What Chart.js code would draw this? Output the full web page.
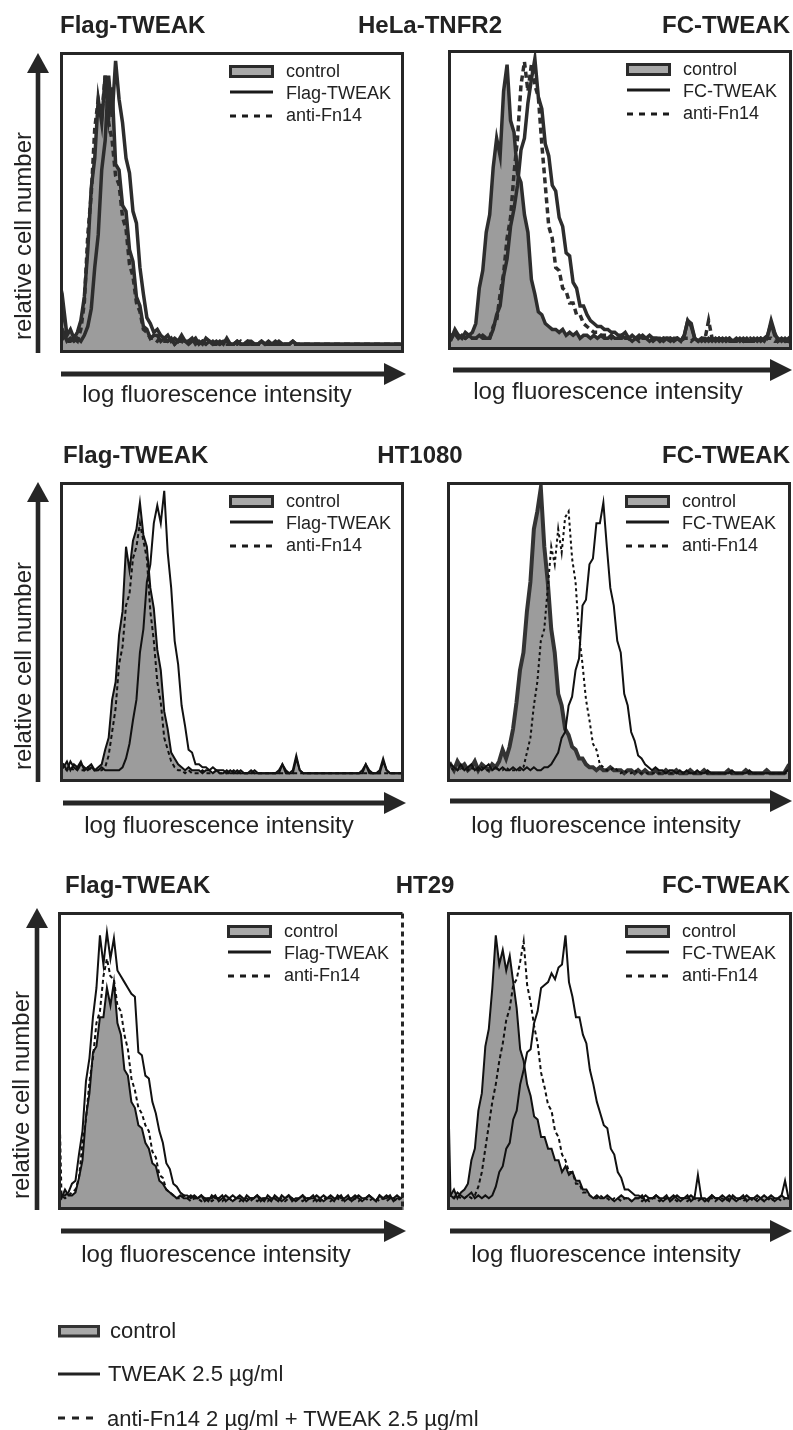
<!DOCTYPE html>
<html>
<head>
<meta charset="utf-8">
<title>TWEAK binding - flow cytometry</title>
<script src="https://cdn.jsdelivr.net/npm/chart.js@4.4.1/dist/chart.umd.min.js"></script>
<style>
  html, body { margin: 0; padding: 0; background: #fff; }
  #page { position: relative; width: 793px; height: 1430px; overflow: hidden; }
  #page canvas { position: absolute; }
  #overlay { position: absolute; left: 0; top: 0; font-family: "Liberation Sans", Arial, sans-serif; fill: #222; }
  .title { font-size: 24px; font-weight: bold; }
  .axis { font-size: 24px; }
  .key { font-size: 18px; }
  .foot { font-size: 22px; }
</style>
</head>
<body>
<div id="page">
  <canvas id="p1"></canvas>
  <canvas id="p2"></canvas>
  <canvas id="p3"></canvas>
  <canvas id="p4"></canvas>
  <canvas id="p5"></canvas>
  <canvas id="p6"></canvas>
  <svg id="overlay" width="793" height="1430">
    <!-- row titles -->
    <text class="title" x="60" y="33">Flag-TWEAK</text>
    <text class="title" x="430" y="33" text-anchor="middle">HeLa-TNFR2</text>
    <text class="title" x="790" y="33" text-anchor="end">FC-TWEAK</text>
    <text class="title" x="63" y="463">Flag-TWEAK</text>
    <text class="title" x="420" y="463" text-anchor="middle">HT1080</text>
    <text class="title" x="790" y="463" text-anchor="end">FC-TWEAK</text>
    <text class="title" x="65" y="893">Flag-TWEAK</text>
    <text class="title" x="425" y="893" text-anchor="middle">HT29</text>
    <text class="title" x="790" y="893" text-anchor="end">FC-TWEAK</text>

    <!-- axis captions -->
    <text class="axis" transform="translate(31,236) rotate(-90)" text-anchor="middle">relative cell number</text>
    <text class="axis" transform="translate(31,666) rotate(-90)" text-anchor="middle">relative cell number</text>
    <text class="axis" transform="translate(29,1095) rotate(-90)" text-anchor="middle">relative cell number</text>
    <text class="axis" x="217" y="402" text-anchor="middle">log fluorescence intensity</text>
    <text class="axis" x="608" y="399" text-anchor="middle">log fluorescence intensity</text>
    <text class="axis" x="219" y="833" text-anchor="middle">log fluorescence intensity</text>
    <text class="axis" x="606" y="833" text-anchor="middle">log fluorescence intensity</text>
    <text class="axis" x="216" y="1262" text-anchor="middle">log fluorescence intensity</text>
    <text class="axis" x="606" y="1262" text-anchor="middle">log fluorescence intensity</text>

    <!-- shared key -->
    <rect x="59.5" y="1326.5" width="39" height="9.5" fill="#a9a9a9" stroke="#333" stroke-width="3"/>
    <text class="foot" x="110" y="1338">control</text>
    <line x1="58" y1="1374" x2="100" y2="1374" stroke="#222" stroke-width="3"/>
    <text class="foot" x="108" y="1381">TWEAK 2.5 µg/ml</text>
    <line x1="58" y1="1418" x2="100" y2="1418" stroke="#222" stroke-width="3" stroke-dasharray="7 7"/>
    <text class="foot" x="107" y="1426">anti-Fn14 2 µg/ml + TWEAK 2.5 µg/ml</text>
  </svg>
</div>
<script>
// histogram bins (log channel), 100 per sample, values in % of panel height
const bins = Array.from({ length: 100 }, (_, i) => i);

// HeLa-TNFR2, Flag-TWEAK
const helaFlagCtrl = [
  3,14,4,6,3,5,9,17,33,54,64,84,76,92,78,88,62,60,48,46,
  33,29,17,14,7,6,3,4,4,2,3,2,3,1,2,3,2,1,2,3,
  1,2,1,2,1,1,2,1,3,1,1,2,1,1,2,1,1,1,2,1,
  1,1,2,1,1,1,1,2,1,1,1,1,1,1,1,1,1,1,1,1,
  1,1,1,1,1,1,1,1,1,1,1,1,1,1,1,1,1,1,1,1
];
const helaFlagTweak = [
  2,5,2,3,2,3,2,4,7,13,27,38,60,70,92,78,97,84,76,64,
  59,46,42,27,18,10,8,5,6,4,3,4,2,3,2,4,2,2,3,1,
  2,1,3,2,1,2,1,2,2,1,1,2,1,1,2,2,1,1,2,1,
  2,1,1,2,1,1,1,2,1,1,1,1,1,1,1,1,1,1,1,1,
  1,1,1,1,1,1,1,1,1,1,1,1,1,1,1,1,1,1,1,1
];
const helaFlagAnti = [
  2,3,2,2,3,2,6,15,38,52,74,84,78,92,76,70,58,55,44,40,
  28,24,15,12,6,5,3,3,2,3,2,2,3,1,2,2,1,2,1,2,
  1,2,1,1,2,1,1,2,1,1,1,1,2,1,1,1,1,1,1,1,
  1,1,1,1,1,1,1,1,1,1,1,1,1,1,1,1,1,1,1,1,
  1,1,1,1,1,1,1,1,1,1,1,1,1,1,1,1,1,1,1,1
];

// HeLa-TNFR2, FC-TWEAK
const helaFcCtrl = [
  4,2,5,3,2,4,3,4,7,19,25,38,44,60,70,64,86,95,76,72,
  58,55,44,38,22,17,11,10,7,6,5,5,4,5,3,4,3,4,2,3,
  3,2,3,2,3,2,2,3,2,2,3,2,2,1,2,2,3,2,1,2,
  2,1,2,2,1,2,2,1,3,8,7,2,1,2,1,2,1,2,1,2,
  1,2,1,1,2,1,2,1,1,2,1,2,3,8,4,1,2,1,2,3
];
const helaFcTweak = [
  3,2,4,2,3,2,3,2,2,3,2,2,2,5,10,13,23,29,40,46,
  54,66,70,82,90,97,84,80,68,64,54,52,43,40,31,30,21,19,13,13,
  10,8,7,6,6,5,5,4,4,3,3,4,2,3,2,3,2,2,3,2,
  2,2,1,2,2,1,2,1,3,8,6,2,1,2,2,1,2,1,2,1,
  2,1,1,2,1,2,1,1,2,1,2,1,3,7,3,2,1,2,1,2
];
const helaFcAnti = [
  2,3,2,3,2,2,3,2,2,2,3,2,2,6,8,17,24,36,43,58,
  70,88,96,86,95,88,84,68,54,40,36,26,25,19,18,14,14,10,10,7,
  6,5,4,4,3,3,3,2,3,2,2,3,2,2,2,1,2,2,2,1,
  2,1,2,1,2,1,2,1,2,2,1,2,2,1,2,8,2,1,2,1,
  1,2,1,1,2,1,1,2,1,1,2,1,2,2,1,1,2,1,1,2
];

// HT1080, Flag-TWEAK
const ht1080FlagCtrl = [
  4,3,5,2,4,3,5,2,3,4,2,3,4,9,13,26,32,48,56,78,
  70,80,84,93,82,78,64,57,43,36,22,16,8,6,4,3,2,3,2,2,
  2,1,2,2,1,2,1,1,2,1,1,2,1,1,1,2,1,1,1,1,
  1,1,1,1,4,2,1,1,6,2,1,1,1,1,1,1,1,1,1,1,
  1,1,1,1,1,1,1,1,4,2,1,1,1,5,2,1,1,1,1,1
];
const ht1080FlagTweak = [
  3,4,2,5,3,2,4,3,2,3,2,2,3,2,2,2,2,2,3,6,
  11,19,26,42,50,66,72,86,92,86,97,76,64,46,38,24,17,9,8,4,
  4,3,3,2,3,2,2,2,1,2,1,1,2,1,1,1,2,1,1,1,
  1,1,1,2,4,1,1,2,7,2,1,1,1,1,1,1,1,1,1,1,
  1,1,1,1,1,1,1,2,4,1,1,1,2,6,2,1,1,1,1,1
];
const ht1080FlagAnti = [
  2,3,2,3,2,3,2,2,3,2,2,2,2,3,7,15,23,38,44,58,
  62,74,78,86,80,74,56,46,32,25,13,9,5,3,2,2,1,2,1,1,
  1,2,1,1,1,2,1,1,1,1,2,1,1,1,1,1,1,1,1,1,
  1,1,1,1,1,1,1,1,1,1,1,1,1,1,1,1,1,1,1,1,
  1,1,1,1,1,1,1,1,1,1,1,1,1,1,1,1,1,1,1,1
];

// HT1080, FC-TWEAK
const ht1080FcCtrl = [
  3,4,2,5,3,4,2,3,5,2,4,3,2,4,3,5,9,6,10,16,
  25,36,42,56,66,84,90,98,78,66,50,42,28,24,16,14,10,9,6,6,
  4,3,3,2,3,2,2,3,2,2,2,1,2,2,1,2,1,2,1,1,
  2,1,1,2,1,1,2,1,1,1,2,1,1,1,2,1,1,1,1,1,
  1,2,1,1,1,1,2,1,1,1,1,1,2,1,1,1,1,1,3,1
];
const ht1080FcTweak = [
  2,4,3,2,4,2,3,4,2,3,2,3,4,2,3,2,3,2,2,3,
  2,3,2,3,2,3,2,2,3,3,4,6,8,13,15,24,27,36,40,58,
  60,72,74,86,86,93,78,64,58,46,42,28,24,15,12,7,6,4,3,2,
  3,2,2,1,2,2,1,2,1,2,1,1,2,1,1,2,1,1,1,1,
  1,1,2,1,1,1,1,2,1,1,1,1,1,1,1,1,1,1,2,1
];
const ht1080FcAnti = [
  2,3,2,2,3,2,2,3,2,2,3,2,2,2,3,2,2,3,2,2,
  2,2,3,8,13,24,32,46,50,64,78,72,84,76,88,90,74,66,48,38,
  26,19,11,9,4,3,2,2,3,2,1,2,1,1,2,1,1,1,1,1,
  1,1,1,1,1,1,1,1,1,1,1,1,1,1,1,1,1,1,1,1,
  1,1,1,1,1,1,1,1,1,1,1,1,1,1,1,1,1,1,1,1
];

// HT29, Flag-TWEAK
const ht29FlagCtrl = [
  4,2,5,3,3,4,9,15,30,38,52,54,64,64,74,68,76,62,58,46,
  44,35,33,27,26,21,19,14,13,8,7,5,4,3,2,3,2,2,3,2,
  2,3,1,2,2,3,1,2,3,2,1,2,3,2,1,2,2,3,1,2,
  2,1,3,2,1,2,3,1,2,2,3,1,2,2,3,2,1,2,3,2,
  2,3,1,2,2,3,2,1,2,3,2,1,3,2,2,3,1,2,2,3
];
const ht29FlagTweak = [
  5,3,3,4,7,8,17,25,42,50,64,74,92,82,93,84,91,80,78,76,
  74,72,71,52,51,44,43,35,31,25,21,14,12,7,6,4,3,3,2,3,
  2,3,2,1,3,2,2,3,1,2,3,2,2,1,3,2,2,3,2,1,
  3,2,2,1,3,2,3,2,1,2,3,2,2,3,1,2,3,2,2,1,
  3,2,2,3,1,2,3,2,2,3,2,1,3,2,3,2,2,3,2,3
];
const ht29FlagAnti = [
  55,3,2,3,4,5,9,21,29,42,50,62,66,78,84,78,77,68,66,58,
  53,43,39,33,31,27,25,18,16,10,9,5,4,3,2,2,3,2,1,2,
  2,1,2,2,1,2,2,1,2,2,1,2,1,2,2,1,2,1,2,2,
  1,2,2,1,2,1,2,2,1,2,1,2,2,1,2,1,2,2,1,2,
  2,1,2,2,1,2,1,2,2,1,2,2,1,2,1,2,2,1,2,2
];

// HT29, FC-TWEAK
const ht29FcCtrl = [
  4,3,5,2,4,5,7,15,19,32,38,54,60,74,92,82,87,80,85,76,
  67,53,49,41,37,30,29,23,23,19,19,15,15,11,13,10,11,8,8,5,
  5,3,2,3,2,2,3,2,1,2,3,2,2,1,2,2,3,1,2,2,
  3,2,1,2,2,3,2,1,2,2,3,2,2,2,1,2,3,2,2,1,
  2,3,2,1,2,2,3,2,2,1,2,3,2,2,1,2,3,2,2,3
];
const ht29FcTweak = [
  58,3,2,4,3,2,3,4,2,3,2,3,2,3,6,11,13,19,21,29,
  32,41,46,52,53,62,66,74,75,76,79,77,81,82,92,76,71,64,64,58,
  55,46,41,35,31,27,26,19,17,11,9,5,5,4,3,3,2,3,2,2,
  3,2,2,3,1,2,3,2,2,3,1,2,10,2,2,1,3,2,2,3,
  2,1,3,2,2,3,1,2,2,3,2,1,2,3,2,2,3,8,2,3
];
const ht29FcAnti = [
  2,3,2,3,2,2,3,2,3,6,11,19,27,35,41,49,55,63,67,75,
  77,83,90,75,69,61,55,45,40,34,32,25,23,17,15,11,11,7,7,4,
  4,3,2,2,3,2,2,1,2,2,1,2,2,1,2,2,1,2,1,2,
  2,1,2,2,1,2,1,2,2,1,2,2,1,2,1,2,2,1,2,2,
  1,2,2,1,2,1,2,2,1,2,2,1,2,1,2,2,1,2,2,1
];

// line styles: top row scans are heavier and greyer
const heavy = { ink: '#2d2d2d', width: 3.5, dash: [6, 4], edge: '#2d2d2d', edgeWidth: 3.5 };
const thin = { ink: '#111', width: 2, dash: [4, 3], edge: '#111', edgeWidth: 2 };
const thinWideEdge = { ink: '#111', width: 2, dash: [3, 3], edge: '#333', edgeWidth: 4 };

const panels = [
  { id: 'p1', x: 60, y: 52, w: 344, h: 301, col: 0, label: 'Flag-TWEAK', ctrl: helaFlagCtrl, tweak: helaFlagTweak, anti: helaFlagAnti, style: heavy },
  { id: 'p2', x: 448, y: 50, w: 344, h: 300, col: 1, label: 'FC-TWEAK', ctrl: helaFcCtrl, tweak: helaFcTweak, anti: helaFcAnti, style: heavy },
  { id: 'p3', x: 60, y: 482, w: 344, h: 300, col: 0, label: 'Flag-TWEAK', ctrl: ht1080FlagCtrl, tweak: ht1080FlagTweak, anti: ht1080FlagAnti, style: thin },
  { id: 'p4', x: 447, y: 482, w: 344, h: 300, col: 1, label: 'FC-TWEAK', ctrl: ht1080FcCtrl, tweak: ht1080FcTweak, anti: ht1080FcAnti, style: thinWideEdge },
  { id: 'p5', x: 58, y: 912, w: 346, h: 298, col: 0, label: 'Flag-TWEAK', ctrl: ht29FlagCtrl, tweak: ht29FlagTweak, anti: ht29FlagAnti, style: thin, dashedRight: true },
  { id: 'p6', x: 447, y: 912, w: 345, h: 298, col: 1, label: 'FC-TWEAK', ctrl: ht29FcCtrl, tweak: ht29FcTweak, anti: ht29FcAnti, style: thin }
];

// heavy box around the plot area
const frame = {
  id: 'frame',
  afterDraw(chart, args, opts) {
    const { ctx, width, height } = chart;
    ctx.save();
    ctx.lineWidth = 3;
    ctx.strokeStyle = '#262626';
    ctx.beginPath();
    ctx.moveTo(width - 1.5, 1.5);
    ctx.lineTo(1.5, 1.5);
    ctx.lineTo(1.5, height - 1.5);
    ctx.lineTo(width - 1.5, height - 1.5);
    if (!opts.dashedRight) ctx.closePath();
    ctx.stroke();
    if (opts.dashedRight) {
      ctx.setLineDash([5, 4]);
      ctx.beginPath();
      ctx.moveTo(width - 1.5, 1.5);
      ctx.lineTo(width - 1.5, height - 1.5);
      ctx.stroke();
    }
    ctx.restore();
  }
};

panels.forEach(p => {
  const cv = document.getElementById(p.id);
  cv.width = p.w;
  cv.height = p.h;
  cv.style.left = p.x + 'px';
  cv.style.top = p.y + 'px';
  const s = p.style;
  new Chart(cv, {
    type: 'line',
    data: {
      labels: bins,
      datasets: [
        { label: 'control', data: p.ctrl, fill: 'start', backgroundColor: '#9c9c9c', borderColor: s.edge, borderWidth: s.edgeWidth, order: 3 },
        { label: 'anti-Fn14', data: p.anti, fill: false, borderColor: s.ink, borderWidth: s.width, borderDash: s.dash, order: 2 },
        { label: p.label, data: p.tweak, fill: false, borderColor: s.ink, borderWidth: s.width, order: 1 }
      ]
    },
    options: {
      responsive: false,
      animation: false,
      layout: { padding: 0 },
      elements: { point: { radius: 0 }, line: { tension: 0, borderJoinStyle: 'miter' } },
      scales: {
        x: { display: false, offset: false },
        y: { display: false, min: -2, max: 100 }
      },
      plugins: {
        legend: { display: false },
        tooltip: { enabled: false },
        frame: { dashedRight: !!p.dashedRight }
      }
    },
    plugins: [frame]
  });
});

// overlay: arrows and per-panel keys
const NS = 'http://www.w3.org/2000/svg';
const svg = document.getElementById('overlay');
function add(tag, attrs, text) {
  const el = document.createElementNS(NS, tag);
  for (const k in attrs) el.setAttribute(k, attrs[k]);
  if (text) el.textContent = text;
  svg.appendChild(el);
  return el;
}
function yArrow(x, tip, base) {
  add('rect', { x: x - 2.3, y: tip + 16, width: 4.6, height: base - tip - 16, fill: '#262626' });
  add('polygon', { points: `${x - 11},${tip + 20} ${x + 11},${tip + 20} ${x},${tip}`, fill: '#262626' });
}
function xArrow(y, start, tip) {
  add('rect', { x: start, y: y - 2.5, width: tip - start - 16, height: 5, fill: '#262626' });
  add('polygon', { points: `${tip - 22},${y - 11} ${tip - 22},${y + 11} ${tip},${y}`, fill: '#262626' });
}
yArrow(38, 53, 353);
yArrow(38, 482, 782);
yArrow(37, 908, 1210);
xArrow(374, 61, 406);
xArrow(370, 453, 792);
xArrow(803, 63, 406);
xArrow(801, 450, 792);
xArrow(1231, 61, 406);
xArrow(1231, 450, 792);

const keyCols = [{ swatch: 169, text: 226 }, { swatch: 178, text: 235 }];
panels.forEach(p => {
  const k = keyCols[p.col];
  const x0 = p.x + k.swatch, y0 = p.y;
  add('rect', { x: x0 + 1.5, y: y0 + 14.5, width: 42, height: 10, fill: '#a8a8a8', stroke: '#2a2a2a', 'stroke-width': 3 });
  add('line', { x1: x0 + 1, y1: y0 + 40, x2: x0 + 44, y2: y0 + 40, stroke: '#1a1a1a', 'stroke-width': 3 });
  add('line', { x1: x0 + 1, y1: y0 + 64, x2: x0 + 44, y2: y0 + 64, stroke: '#1a1a1a', 'stroke-width': 3, 'stroke-dasharray': '6 6' });
  add('text', { class: 'key', x: p.x + k.text, y: y0 + 25 }, 'control');
  add('text', { class: 'key', x: p.x + k.text, y: y0 + 47 }, p.label);
  add('text', { class: 'key', x: p.x + k.text, y: y0 + 69 }, 'anti-Fn14');
});
</script>
</body>
</html>
